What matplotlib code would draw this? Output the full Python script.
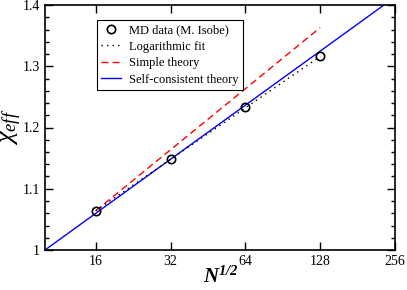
import matplotlib
matplotlib.use("Agg")
import matplotlib.pyplot as plt
import numpy as np
from matplotlib.ticker import FixedLocator, NullLocator, MultipleLocator

plt.rcParams['font.family'] = ['Liberation Serif', 'DejaVu Serif']
plt.rcParams['mathtext.fontset'] = 'custom'
plt.rcParams['mathtext.rm'] = 'Liberation Serif'
plt.rcParams['mathtext.it'] = 'Liberation Serif:italic'
plt.rcParams['mathtext.bf'] = 'Liberation Serif:bold:italic'

# MD data (M. Isobe)
md_x = [16, 32, 64, 128]
md_y = [1.064, 1.148, 1.233, 1.317]

# logarithmic fit
fit_x = [16, 128]
fit_y = [1.064, 1.316]

# simple theory
simple_x = [16, 128]
simple_y = [1.064, 1.363]

# self-consistent theory
sc_x = [10, 256]
sc_y = [1.0, 1.413]

xticks = [16, 32, 64, 128, 256]
yticks = [1.0, 1.1, 1.2, 1.3, 1.4]
ylabels = ['1', '1.1', '1.2', '1.3', '1.4']

fig = plt.figure(figsize=(4.07, 2.90), dpi=100)
ax = fig.add_axes([45 / 407, 40 / 290, 350 / 407, 245 / 290])

ax.plot(sc_x, sc_y, color='blue', lw=1.0, label='Self-consistent theory', zorder=2)
ax.plot(simple_x, simple_y, color='red', lw=1.0, ls=(0, (5, 3)), label='Simple theory', zorder=2)
ax.plot(fit_x, fit_y, color='black', lw=1.0, ls=(0, (1, 3)), label='Logarithmic fit', zorder=2)
ax.plot(md_x, md_y, 'o', mfc='none', mec='black', ms=6, mew=1.2, label='MD data (M. Isobe)', zorder=3)

ax.set_xscale('log', base=2)
ax.set_xlim(10, 256)
ax.set_ylim(1.0, 1.4)
ax.xaxis.set_major_locator(FixedLocator(xticks))
ax.xaxis.set_minor_locator(NullLocator())
ax.set_xticklabels([str(t) for t in xticks])
ax.set_yticks(yticks)
ax.set_yticklabels(ylabels)
ax.yaxis.set_minor_locator(MultipleLocator(0.02))
ax.tick_params(which='both', direction='in', top=True, right=True, labelsize=10, width=1)
ax.tick_params(which='major', length=6)
ax.tick_params(which='minor', length=3)
for s in ax.spines.values():
    s.set_linewidth(1.2)

fig.text(221 / 407, 1 - 277 / 290, r'$\mathbf{N^{1/2}}$', fontsize=15, ha='center', va='center')
fig.text(12 / 407, 1 - 127 / 290, r'$\chi_{eff}$', fontsize=19, rotation=90, ha='center', va='center')

h, l = ax.get_legend_handles_labels()
order = [3, 2, 1, 0]
leg = ax.legend([h[i] for i in order], [l[i] for i in order], loc='upper left',
                bbox_to_anchor=(52 / 350, 1 - 15 / 245), fontsize=9, fancybox=False,
                edgecolor='black', framealpha=1, handlelength=1.6,
                borderpad=0.35, labelspacing=0.35, handletextpad=0.6, borderaxespad=0)
leg.get_frame().set_linewidth(0.8)

fig.savefig('out.png', dpi=100)
